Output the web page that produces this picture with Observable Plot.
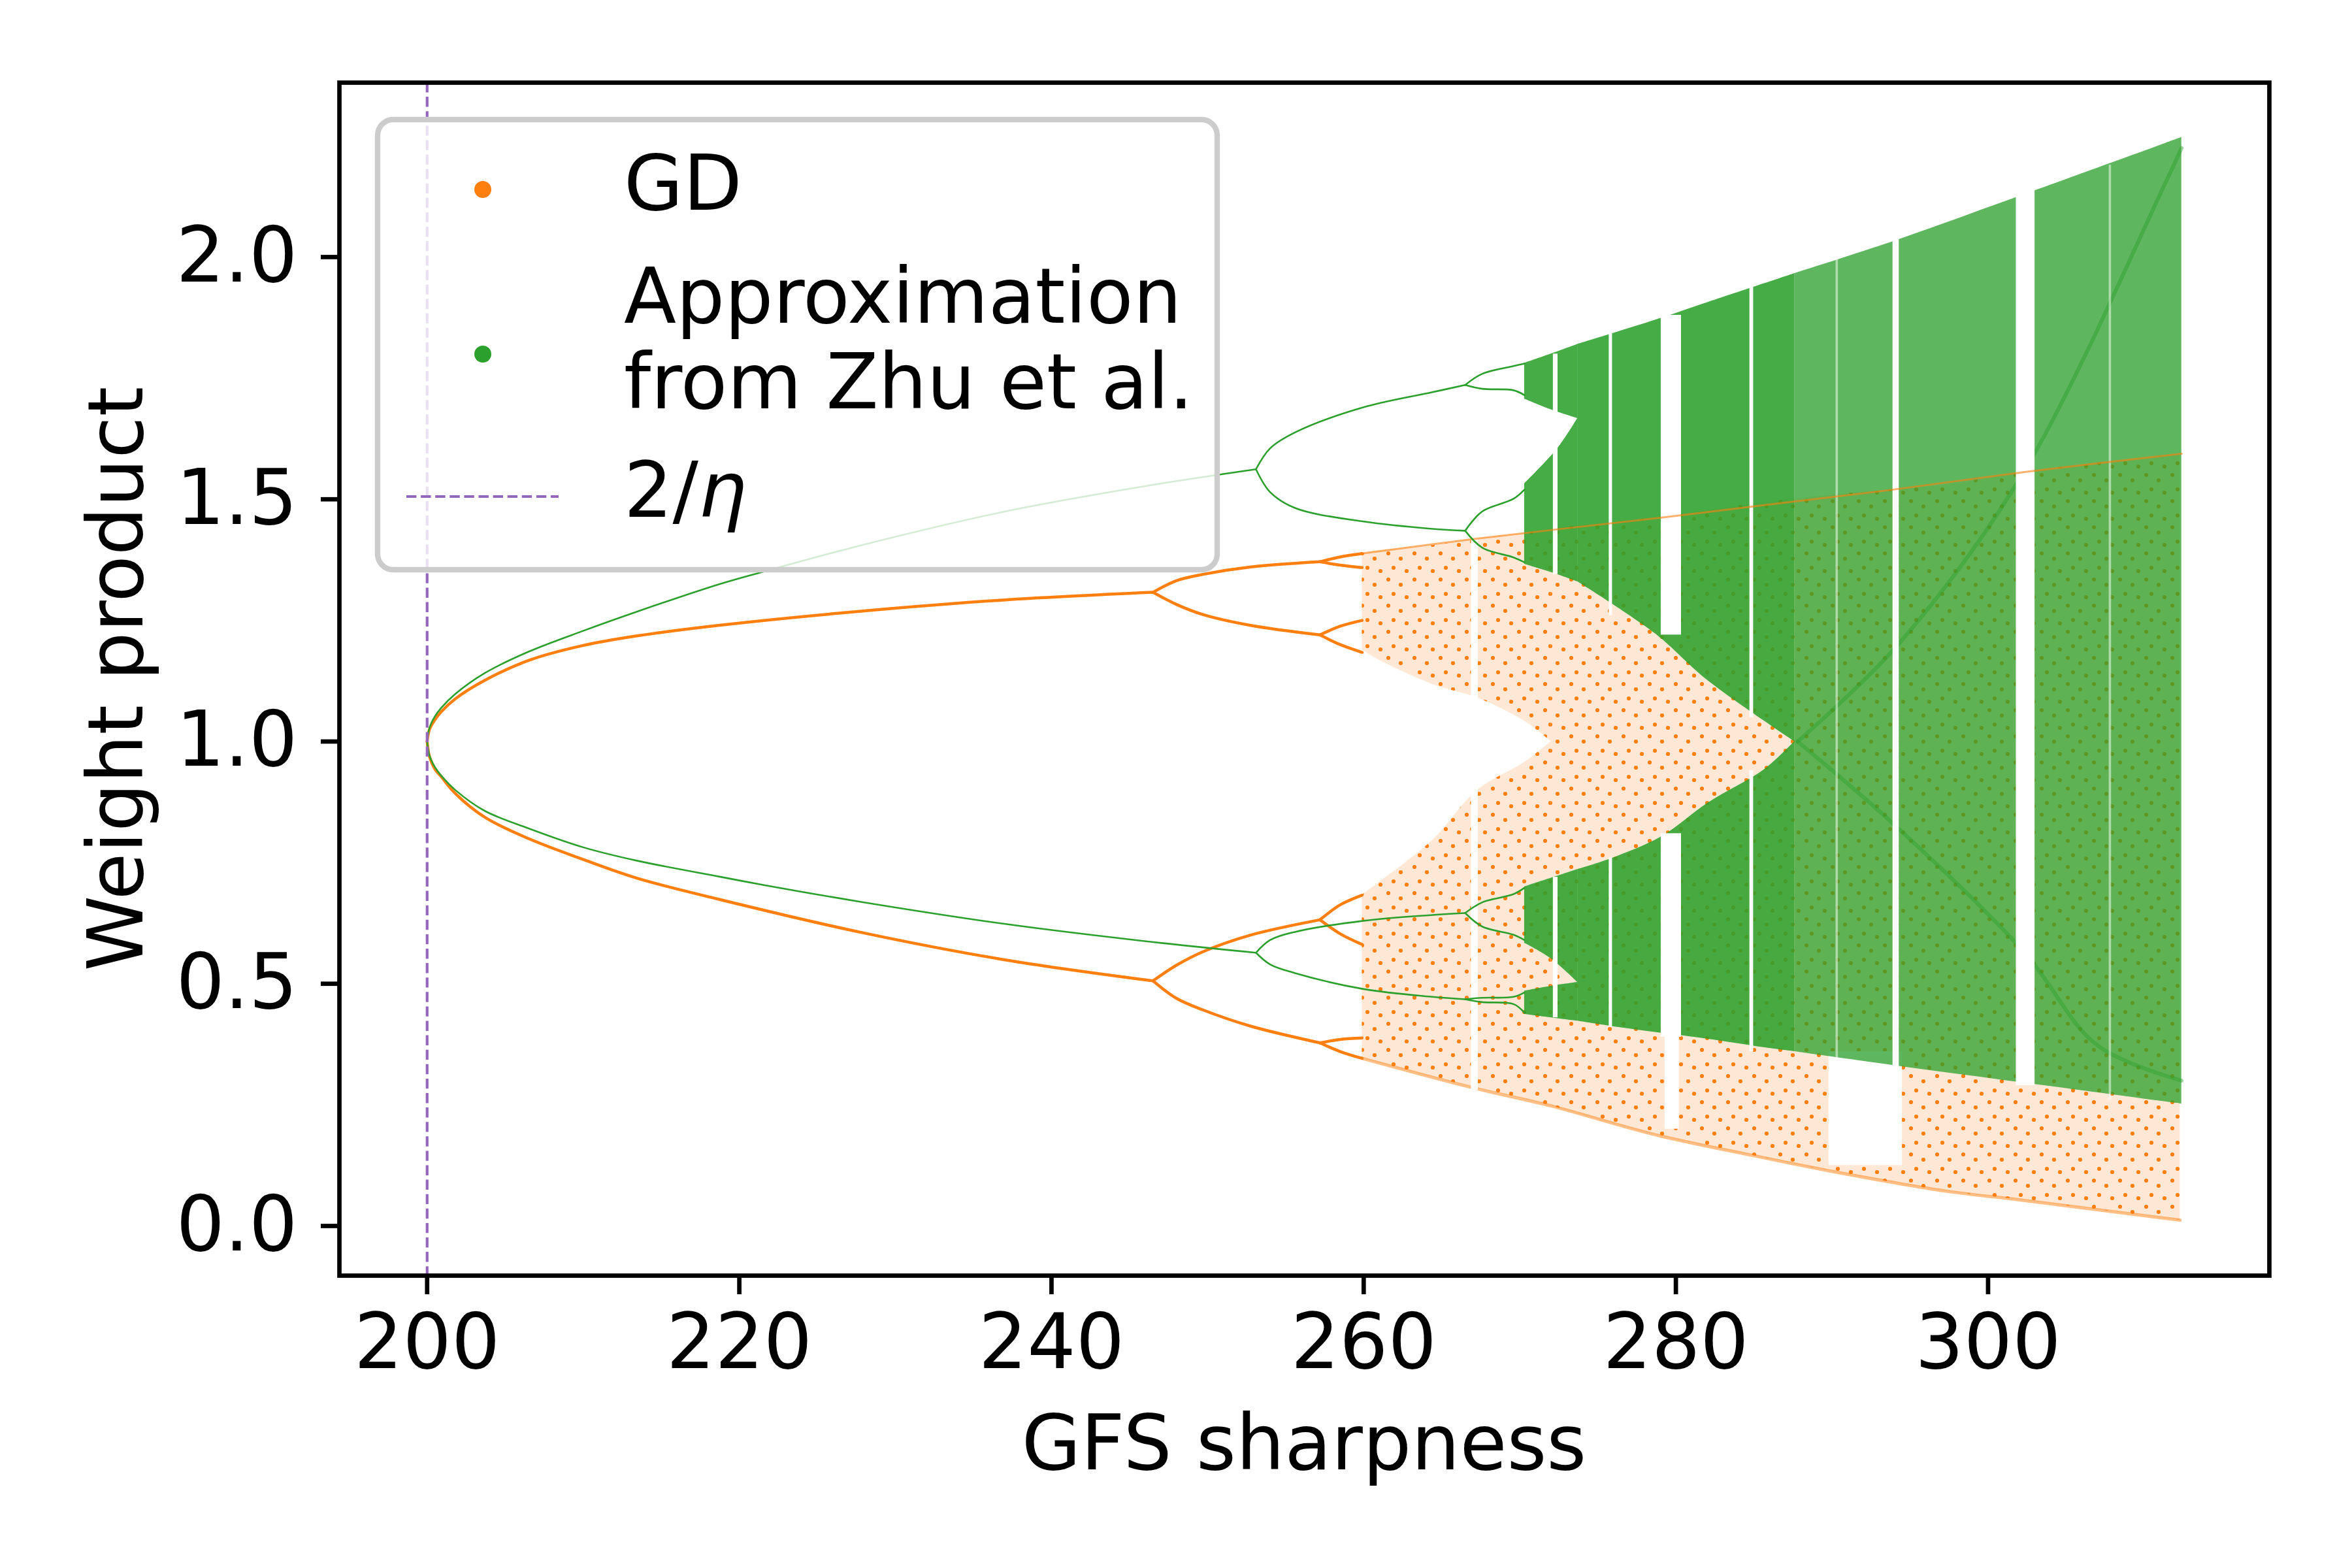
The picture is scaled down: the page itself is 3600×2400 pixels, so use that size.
<!DOCTYPE html>
<html>
<head>
<meta charset="utf-8">
<script src="https://cdn.jsdelivr.net/npm/d3@7"></script>
<script src="https://cdn.jsdelivr.net/npm/@observablehq/plot@0.6"></script>
<style>
  html, body { margin: 0; padding: 0; background: #fff; }
  #chart { width: 3600px; height: 2400px; }
</style>
</head>
<body>
<div id="chart"></div>
<script>
// ---------- tick labels ----------
const xTicks = [200, 220, 240, 260, 280, 300];
const yTicks = [0, 0.5, 1.0, 1.5, 2.0];

// ---------- GD (orange): periodic branches ----------
const gdP2X  = [200, 200.15, 200.5, 200.89, 201.8, 203.68, 206.47, 209.96, 213.44, 218.74, 227.8, 236.9, 246.5];
const gdP2Up = [1.0, 1.025, 1.045, 1.061, 1.088, 1.126, 1.167, 1.198, 1.218, 1.240, 1.269, 1.292, 1.308];
const gdP2Lo = [1.0, 0.969, 0.943, 0.928, 0.893, 0.844, 0.800, 0.757, 0.718, 0.674, 0.606, 0.550, 0.506];

const gdP4X = [246.5, 248.0, 249.7, 252.7, 257.2];
const gdP4A = [1.308, 1.332, 1.345, 1.360, 1.371];
const gdP4B = [1.308, 1.283, 1.262, 1.240, 1.220];
const gdP4C = [0.506, 0.538, 0.566, 0.600, 0.632];
const gdP4D = [0.506, 0.470, 0.446, 0.413, 0.378];

const gdP8X  = [257.2, 258.5, 259.9];
const gdP8A1 = [1.371, 1.381, 1.388];
const gdP8A2 = [1.371, 1.364, 1.359];
const gdP8B1 = [1.220, 1.238, 1.250];
const gdP8B2 = [1.220, 1.200, 1.184];
const gdP8C1 = [0.632, 0.663, 0.683];
const gdP8C2 = [0.632, 0.603, 0.581];
const gdP8D1 = [0.378, 0.385, 0.388];
const gdP8D2 = [0.378, 0.360, 0.346];

// ---------- GD (orange): chaotic bands ----------
const gdBandUpX  = [259.9, 260.6, 264.4, 267.3, 270.3, 272.0];
const gdBandUpLo = [1.190, 1.175, 1.118, 1.090, 1.042, 1.000];
const gdBandUpHi = [1.388, 1.393, 1.405, 1.419, 1.430, 1.440];

const gdBandLowX  = [259.9, 260.6, 264.4, 267.3, 270.3, 272.0];
const gdBandLowLo = [0.346, 0.340, 0.307, 0.284, 0.262, 0.248];
const gdBandLowHi = [0.683, 0.700, 0.796, 0.900, 0.957, 1.000];

const gdBandFullX  = [272.0, 278.6, 284.7, 290.3, 297.3, 302.0, 312.3];
const gdBandFullLo = [0.248, 0.189, 0.147, 0.111, 0.072, 0.054, 0.012];
const gdBandFullHi = [1.440, 1.462, 1.490, 1.510, 1.530, 1.555, 1.594];

// edges of the GD cloud
const gdTopX = [259.9, 267.3, 279.0, 285.7, 293.7, 302.5, 312.4];
const gdTopY = [1.388, 1.419, 1.462, 1.488, 1.519, 1.557, 1.594];
const gdBotX = [259.9, 266.9, 272.0, 278.6, 284.7, 290.3, 297.3, 302.0, 312.3];
const gdBotY = [0.346, 0.286, 0.248, 0.189, 0.147, 0.111, 0.072, 0.054, 0.012];

// periodic windows of GD (x1, x2, y1, y2)
const gdWinX1 = [266.89, 279.3, 289.8];
const gdWinX2 = [267.33, 280.2, 294.5];
const gdWinY1 = [0.28, 0.20, 0.125];
const gdWinY2 = [1.42, 0.40, 0.36];

// ---------- Approximation (green): periodic branches ----------
const apP2X  = [200, 200.15, 200.5, 200.89, 201.8, 203.68, 206.47, 209.96, 213.44, 218.74, 221.7, 227.8, 236.9, 245.96, 253.1];
const apP2Up = [1.0, 1.028, 1.052, 1.069, 1.098, 1.141, 1.185, 1.228, 1.268, 1.325, 1.352, 1.405, 1.474, 1.527, 1.562];
const apP2Lo = [1.0, 0.971, 0.947, 0.930, 0.900, 0.857, 0.821, 0.782, 0.754, 0.721, 0.703, 0.669, 0.624, 0.588, 0.564];

const apP4X = [253.1, 254.0, 255.6, 260.0, 264.4, 266.5];
const apP4A = [1.562, 1.605, 1.638, 1.690, 1.721, 1.736];
const apP4B = [1.562, 1.515, 1.482, 1.454, 1.439, 1.435];
const apP4C = [0.564, 0.590, 0.607, 0.630, 0.642, 0.646];
const apP4D = [0.564, 0.540, 0.522, 0.489, 0.473, 0.468];

const apP8X  = [266.5, 267.6, 269.6, 270.3];
const apP8A1 = [1.736, 1.759, 1.775, 1.780];
const apP8A2 = [1.736, 1.728, 1.725, 1.715];
const apP8B1 = [1.435, 1.475, 1.501, 1.520];
const apP8B2 = [1.435, 1.400, 1.380, 1.370];
const apP8C1 = [0.646, 0.668, 0.685, 0.698];
const apP8C2 = [0.646, 0.618, 0.601, 0.590];
const apP8D1 = [0.468, 0.471, 0.473, 0.482];
const apP8D2 = [0.468, 0.462, 0.458, 0.440];

// ---------- Approximation (green): chaotic bands ----------
const apBandAX  = [270.3, 272.0, 273.7];
const apBandALo = [1.707, 1.685, 1.667];
const apBandAHi = [1.781, 1.800, 1.820];

const apBandBX  = [270.3, 272.4, 273.7];
const apBandBLo = [1.366, 1.345, 1.330];
const apBandBHi = [1.532, 1.604, 1.667];

const apBandUpX  = [273.7, 278.7, 282.0, 287.6];
const apBandUpLo = [1.330, 1.222, 1.127, 1.000];
const apBandUpHi = [1.820, 1.870, 1.906, 1.966];

const apBandCX  = [270.3, 272.0, 273.7];
const apBandCLo = [0.584, 0.552, 0.503];
const apBandCHi = [0.700, 0.718, 0.736];

const apBandDX  = [270.3, 272.0, 273.7];
const apBandDLo = [0.437, 0.430, 0.423];
const apBandDHi = [0.485, 0.495, 0.503];

const apBandLowX  = [273.7, 275.9, 279.1, 282.0, 285.7, 287.6];
const apBandLowLo = [0.423, 0.412, 0.398, 0.386, 0.368, 0.360];
const apBandLowHi = [0.736, 0.759, 0.804, 0.872, 0.943, 1.000];

const apBandFullX  = [287.6, 294.0, 302.4, 312.4];
const apBandFullLo = [0.360, 0.331, 0.295, 0.252];
const apBandFullHi = [1.966, 2.033, 2.130, 2.247];

// denser caustic curves in the green cloud
const apCausticUpX = [287.8, 294.2, 302.3, 311.3, 312.4];
const apCausticUpY = [1.000, 1.199, 1.557, 2.149, 2.225];
const apCausticDnX = [287.8, 294.0, 302.3, 307.0, 312.4];
const apCausticDnY = [1.000, 0.828, 0.566, 0.373, 0.300];

// periodic windows of the approximation (x1, x2, y1, y2)
const apWinX1 = [272.14, 272.14, 275.72, 275.72, 279.05, 279.05, 284.73, 284.73, 293.90, 301.80];
const apWinX2 = [272.44, 272.44, 275.93, 275.93, 280.35, 280.35, 284.97, 284.97, 294.30, 303.00];
const apWinY1 = [1.345, 0.43, 1.26, 0.41, 1.22, 0.39, 1.05, 0.36, 0.32, 0.29];
const apWinY2 = [1.80, 0.72, 1.85, 0.76, 1.88, 0.81, 1.94, 0.94, 2.04, 2.14];
// faint windows
const apFaintX1 = [290.25, 307.75];
const apFaintX2 = [290.40, 307.90];
const apFaintY1 = [0.34, 0.26];
const apFaintY2 = [2.00, 2.19];

// ---------- 2/eta ----------
const etaLine = [200];

// ---------- table builders ----------
const series = (name, xs, ys) => xs.map((x, i) => ({seg: name, x, y: ys[i]}));
const band = (name, xs, lo, hi) => xs.map((x, i) => ({seg: name, x, lo: lo[i], hi: hi[i]}));
const wins = (x1, x2, y1, y2) => x1.map((v, i) => ({x1: v, x2: x2[i], y1: y1[i], y2: y2[i]}));

const ORANGE = "#ff7f0e", GREEN = "#2ca02c", PURPLE = "#9467bd";

const gdLines = [
  ...series("p2u", gdP2X, gdP2Up), ...series("p2l", gdP2X, gdP2Lo),
  ...series("p4a", gdP4X, gdP4A), ...series("p4b", gdP4X, gdP4B),
  ...series("p4c", gdP4X, gdP4C), ...series("p4d", gdP4X, gdP4D),
  ...series("p8a1", gdP8X, gdP8A1), ...series("p8a2", gdP8X, gdP8A2),
  ...series("p8b1", gdP8X, gdP8B1), ...series("p8b2", gdP8X, gdP8B2),
  ...series("p8c1", gdP8X, gdP8C1), ...series("p8c2", gdP8X, gdP8C2),
  ...series("p8d1", gdP8X, gdP8D1), ...series("p8d2", gdP8X, gdP8D2)
];
const apLines = [
  ...series("p2u", apP2X, apP2Up), ...series("p2l", apP2X, apP2Lo),
  ...series("p4a", apP4X, apP4A), ...series("p4b", apP4X, apP4B),
  ...series("p4c", apP4X, apP4C), ...series("p4d", apP4X, apP4D),
  ...series("p8a1", apP8X, apP8A1), ...series("p8a2", apP8X, apP8A2),
  ...series("p8b1", apP8X, apP8B1), ...series("p8b2", apP8X, apP8B2),
  ...series("p8c1", apP8X, apP8C1), ...series("p8c2", apP8X, apP8C2),
  ...series("p8d1", apP8X, apP8D1), ...series("p8d2", apP8X, apP8D2)
];
const gdBands = [
  ...band("up", gdBandUpX, gdBandUpLo, gdBandUpHi),
  ...band("low", gdBandLowX, gdBandLowLo, gdBandLowHi),
  ...band("full", gdBandFullX, gdBandFullLo, gdBandFullHi)
];
const apBandsDense = [
  ...band("A", apBandAX, apBandALo, apBandAHi),
  ...band("B", apBandBX, apBandBLo, apBandBHi),
  ...band("up", apBandUpX, apBandUpLo, apBandUpHi),
  ...band("C", apBandCX, apBandCLo, apBandCHi),
  ...band("D", apBandDX, apBandDLo, apBandDHi),
  ...band("low", apBandLowX, apBandLowLo, apBandLowHi)
];
const apBandsFull = band("full", apBandFullX, apBandFullLo, apBandFullHi);
const gdEdges = series("top", gdTopX, gdTopY);
const gdBottom = series("bot", gdBotX, gdBotY);
const apCaustics = [...series("cu", apCausticUpX, apCausticUpY), ...series("cd", apCausticDnX, apCausticDnY)];

const chart = Plot.plot({
  width: 3600,
  height: 2400,
  marginLeft: 519,
  marginRight: 127,
  marginTop: 126,
  marginBottom: 448,
  style: {fontFamily: "'DejaVu Sans', sans-serif", fontSize: "117px", background: "white", color: "black"},
  x: {domain: [194.38, 318.02]},
  y: {domain: [-0.1025, 2.36]},
  marks: [
    // GD cloud: light tint + dotted texture
    Plot.areaY(gdBands, {x: "x", y1: "lo", y2: "hi", z: "seg", fill: ORANGE, fillOpacity: 0.17, curve: "catmull-rom"}),
    Plot.areaY(gdBands, {x: "x", y1: "lo", y2: "hi", z: "seg", fill: "url(#gdDots)", curve: "catmull-rom"}),
    Plot.line(gdBottom, {x: "x", y: "y", z: "seg", stroke: ORANGE, strokeWidth: 5, strokeOpacity: 0.5, curve: "catmull-rom"}),
    Plot.rect(wins(gdWinX1, gdWinX2, gdWinY1, gdWinY2), {x1: "x1", x2: "x2", y1: "y1", y2: "y2", fill: "white"}),
    // approximation cloud
    Plot.areaY(apBandsDense, {x: "x", y1: "lo", y2: "hi", z: "seg", fill: GREEN, fillOpacity: 0.88, curve: "catmull-rom"}),
    Plot.areaY(apBandsFull, {x: "x", y1: "lo", y2: "hi", z: "seg", fill: GREEN, fillOpacity: 0.76, curve: "catmull-rom"}),
    Plot.line(apCaustics, {x: "x", y: "y", z: "seg", stroke: GREEN, strokeWidth: 6, strokeOpacity: 0.45, curve: "catmull-rom"}),
    Plot.rect(wins(apWinX1, apWinX2, apWinY1, apWinY2), {x1: "x1", x2: "x2", y1: "y1", y2: "y2", fill: "white"}),
    Plot.rect(wins(apFaintX1, apFaintX2, apFaintY1, apFaintY2), {x1: "x1", x2: "x2", y1: "y1", y2: "y2", fill: "white", fillOpacity: 0.5}),
    Plot.line(gdEdges, {x: "x", y: "y", z: "seg", stroke: ORANGE, strokeWidth: 3, strokeOpacity: 0.6, curve: "catmull-rom"}),
    // periodic branches
    Plot.line(gdLines, {x: "x", y: "y", z: "seg", stroke: ORANGE, strokeWidth: 4.5, curve: "catmull-rom"}),
    Plot.line(apLines, {x: "x", y: "y", z: "seg", stroke: GREEN, strokeWidth: 2.6, curve: "catmull-rom"}),
    Plot.ruleX(etaLine, {stroke: PURPLE, strokeWidth: 4.2, strokeDasharray: "15.4,6.7"}),
    Plot.frame({stroke: "black", strokeWidth: 6.7}),
    Plot.axisX(xTicks, {tickSize: 29, tickPadding: 29, strokeWidth: 6.7, fontSize: 117, label: null, tickFormat: d => String(d)}),
    Plot.axisY(yTicks, {tickSize: 28, tickPadding: 36, strokeWidth: 6.7, fontSize: 117, label: null, tickFormat: d => d.toFixed(1)})
  ]
});

document.getElementById("chart").appendChild(chart);

const svg = d3.select(chart);

// dotted texture for the GD cloud
const defs = svg.insert("defs", ":first-child");
const pat = defs.append("pattern").attr("id", "gdDots").attr("patternUnits", "userSpaceOnUse")
  .attr("width", 40).attr("height", 40);
[[5, 7], [24, 15], [13, 29], [33, 34]].forEach(([cx, cy]) =>
  pat.append("circle").attr("cx", cx).attr("cy", cy).attr("r", 3.1).attr("fill", ORANGE));

// ---------- axis titles and legend (overlay) ----------
const ov = svg.append("g").attr("font-family", "'DejaVu Sans', sans-serif").attr("font-size", 117)
  .attr("fill", "black").attr("text-anchor", "start");

ov.append("text").attr("x", 1996).attr("y", 2249).attr("text-anchor", "middle").text("GFS sharpness");
ov.append("text").attr("transform", "translate(218,1039) rotate(-90)").attr("text-anchor", "middle").text("Weight product");

const lg = ov.append("g");
lg.append("rect").attr("x", 578).attr("y", 183).attr("width", 1285).attr("height", 689)
  .attr("rx", 24).attr("ry", 24)
  .attr("fill", "white").attr("fill-opacity", 0.8)
  .attr("stroke", "#cccccc").attr("stroke-width", 8.3);
lg.append("circle").attr("cx", 739).attr("cy", 290).attr("r", 13).attr("fill", ORANGE);
lg.append("text").attr("x", 955).attr("y", 321).attr("text-anchor", "start").text("GD");
lg.append("circle").attr("cx", 739).attr("cy", 542).attr("r", 13).attr("fill", GREEN);
lg.append("text").attr("x", 955).attr("y", 494).attr("text-anchor", "start").text("Approximation");
lg.append("text").attr("x", 955).attr("y", 625).attr("text-anchor", "start").text("from Zhu et al.");
lg.append("line").attr("x1", 622).attr("x2", 855).attr("y1", 760).attr("y2", 760)
  .attr("stroke", PURPLE).attr("stroke-width", 4.2).attr("stroke-dasharray", "15.4,6.7");
const eta = lg.append("text").attr("x", 955).attr("y", 791).attr("text-anchor", "start");
eta.append("tspan").text("2/");
eta.append("tspan").attr("font-style", "italic").text("η");
</script>
</body>
</html>
